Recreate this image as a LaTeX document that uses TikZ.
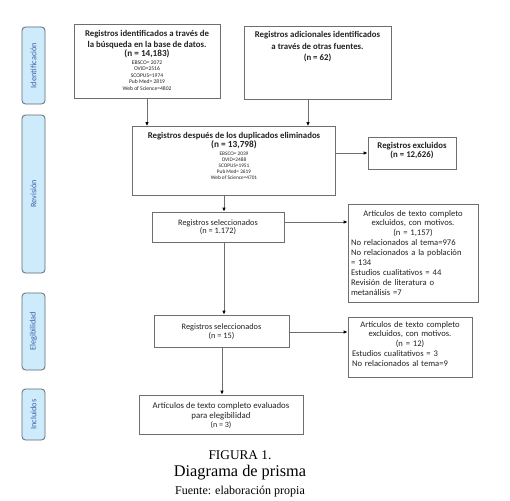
\documentclass[tikz,border=0pt]{standalone}
\usepackage{fontspec}
\setmainfont{Carlito}
\newfontfamily\capfont{Liberation Serif}
\usetikzlibrary{arrows.meta}
\definecolor{boxgray}{HTML}{6E6E6E}
\definecolor{sidefill}{HTML}{CDEBFB}
\definecolor{sidedraw}{HTML}{5F6B75}
\definecolor{sidetext}{HTML}{3A62A8}
\definecolor{txtc}{HTML}{222222}
\definecolor{linec}{HTML}{6E6E6E}
\newcommand\myfs[2]{\fontsize{#1}{#2}\selectfont}
\lineskiplimit=-20pt
\begin{document}
\begin{tikzpicture}[x=1pt,y=-1pt,
  box/.style={draw=boxgray,line width=0.8pt,inner sep=0pt,fill=white},
  txt/.style={align=center,inner sep=0pt,text=txtc,font=\myfs{8.8}{6}},
  txtl/.style={align=left,inner sep=0pt,text=txtc,text width=124pt,font=\myfs{8.6}{9.9}},
  side/.style={draw=sidedraw,fill=sidefill,rounded corners=3.5pt,line width=0.8pt,
    minimum height=23pt,inner sep=0pt,rotate=90,text=sidetext,font=\myfs{8.3}{10}},
  arr/.style={draw=linec,line width=0.9pt,-{Latex[length=4pt,width=3.6pt,color=black]}},
  capt/.style={inner sep=0pt,text=black}]
\useasboundingbox (0,0) rectangle (510,500);

% side bars
\node[side,minimum width=77pt] (sid) at (33.5,65.5) {Identificación};
\node[side,minimum width=158pt] (srv) at (33.5,194) {Revisión};
\node[side,minimum width=77pt] (sel) at (33.5,331.5) {Elegibilidad};
\node[side,minimum width=51pt] (sin) at (33.5,414.5) {Incluidos};

% boxes
\node[box,minimum width=146pt,minimum height=74pt] (b1) at (147,61) {};
\node[txt,anchor=north] (t1) at ([yshift=-7pt]b1.north) {%
   \bfseries Registros identificados a través de\\[4.3pt]
   \bfseries la búsqueda en la base de datos.\\[3pt]
   \bfseries\myfs{9.2}{6}(n = 14,183)\\[1.8pt]
   \myfs{5.6}{6}EBSCO= 2072\\[0.5pt]
   \myfs{5.6}{6}OVID=2516\\[0.5pt]
   \myfs{5.6}{6}SCOPUS=1974\\[0.5pt]
   \myfs{5.6}{6}Pub Med= 2819\\[0.5pt]
   \myfs{5.6}{6}Web of Science=4802};

\node[box,minimum width=147pt,minimum height=73pt] (b2) at (317.5,62.5) {};
\node[txt,anchor=north] (t2) at ([yshift=-6pt]b2.north) {%
   \bfseries Registros adicionales identificados\\[5.3pt]
   \bfseries a través de otras fuentes.\\[5.5pt]
   \bfseries\myfs{8.8}{6}(n = 62)};

\node[box,minimum width=203pt,minimum height=69pt] (b3) at (234,161) {};
\node[txt,anchor=north] (t3) at ([yshift=-6pt]b3.north) {%
   \bfseries Registros después de los duplicados eliminados\\[2.8pt]
   \bfseries\myfs{9.3}{6}(n = 13,798)\\[1.8pt]
   \myfs{5.3}{6}EBSCO= 2039\\
   \myfs{5.3}{6}OVID=2488\\
   \myfs{5.3}{6}SCOPUS=1951\\
   \myfs{5.3}{6}Pub Med= 2619\\
   \myfs{5.3}{6}Web of Science=4701};

\node[box,minimum width=88pt,minimum height=32pt] (bx) at (412,153) {};
\node[txt,anchor=north] (tx) at ([yshift=-6pt]bx.north) {%
   \bfseries Registros excluidos\\[3pt]
   \bfseries (n = 12,626)};

\node[box,minimum width=132pt,minimum height=30pt] (b4) at (218,227) {};
\node[txt,anchor=north] (t4) at ([yshift=-7.5pt]b4.north) {%
   \myfs{8.3}{6}Registros seleccionados\\[2.4pt]
   \myfs{8.3}{6}(n = 1.172)};

\node[box,minimum width=130pt,minimum height=98pt] (b5) at (413,253) {};
\node[txtl,anchor=north] (t5) at ([yshift=-6.3pt]b5.north) {%
   \centering Artículos de texto completo\\
   excluidos, con motivos.\\
   (n = 1,157)\par\raggedright
   No relacionados al tema=976\\
   No relacionados a la población\\
   = 134\\
   Estudios cualitativos = 44\\
   Revisión de literatura o\\
   metanálisis =7\par};

\node[box,minimum width=135pt,minimum height=32pt] (b6) at (221.5,331) {};
\node[txt,anchor=north] (t6) at ([yshift=-9pt]b6.north) {%
   \myfs{8.3}{6}Registros seleccionados\\[3pt]
   \myfs{8.3}{6}(n = 15)};

\node[box,minimum width=124pt,minimum height=60pt] (b7) at (410,347) {};
\node[txtl,anchor=north,text width=116pt] (t7) at ([yshift=-4.3pt]b7.north) {%
   \centering Artículos de texto completo\\
   excluidos, con motivos.\\
   (n = 12)\par\raggedright
   Estudios cualitativos = 3\\
   No relacionados al tema=9\par};

\node[box,minimum width=164pt,minimum height=39pt] (b8) at (221,414.5) {};
\node[txt,anchor=north] (t8) at ([yshift=-8pt]b8.north) {%
   Artículos de texto completo evaluados\\[4pt]
   para elegibilidad\\[3pt]
   \myfs{8}{6}(n = 3)};

% connectors
\coordinate (c2) at (308,99);
\coordinate (c3) at (224,195.5);
\coordinate (c4a) at (284,222);
\coordinate (c4b) at (224,242);
\coordinate (c6a) at (289,332);
\coordinate (c6b) at (222,347);
\draw[arr] (b1.south) -- (b1.south |- b3.north);
\draw[arr] (c2) -- (c2 |- b3.north);
\draw[arr] (b3.east |- bx.west) -- (bx.west);
\draw[arr] (c3) -- (c3 |- b4.north);
\draw[arr] (c4a) -- (c4a -| b5.west);
\draw[arr] (c4b) -- (c4b |- b6.north);
\draw[arr] (c6a) -- (c6a -| b7.west);
\draw[arr] (c6b) -- (c6b |- b8.north);

% caption
\node[capt,font=\capfont\myfs{13.3}{15}] (f1) at (240,455) {FIGURA 1.};
\node[capt,font=\capfont\myfs{16.3}{18}] (f2) at (240,473) {Diagrama de prisma};
\node[capt,font=\capfont\myfs{12}{14}] (f3) at (240,492) {Fuente: elaboración propia};
\end{tikzpicture}
\end{document}
